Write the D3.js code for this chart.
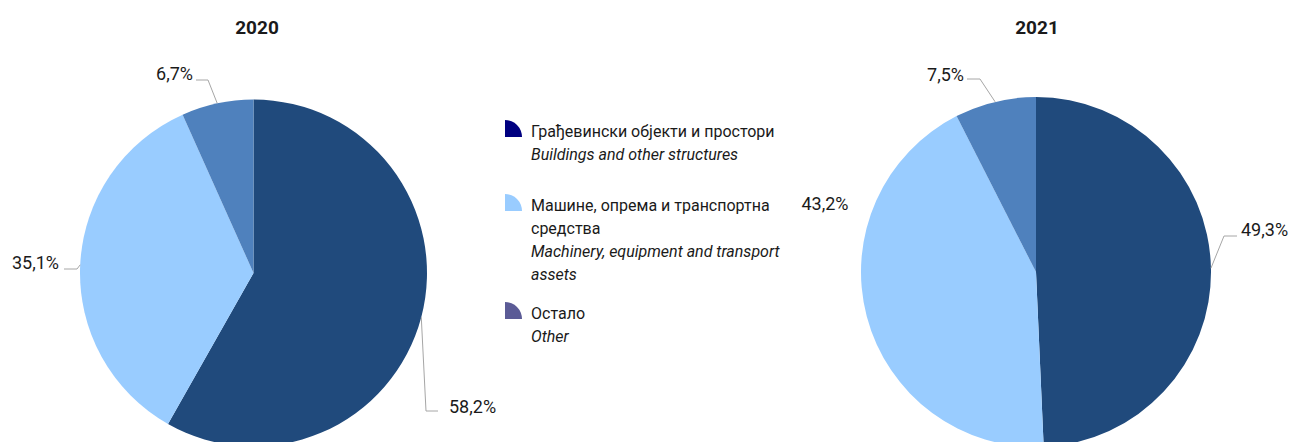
<!DOCTYPE html>
<html>
<head>
<meta charset="utf-8">
<script src="https://cdn.jsdelivr.net/npm/d3@7"></script>
<style>
  body { margin: 0; background: #fff; }
  svg text { font-family: Roboto, "Liberation Sans", sans-serif; fill: #1a1a1a; }
</style>
</head>
<body>
<script>
// data
const categories = ["buildings", "machinery", "other"];
const years = ["2020", "2021"];
const values2020 = [58.2, 35.1, 6.7];
const values2021 = [49.3, 43.2, 7.5];
const labelsSr = ["Грађевински објекти и простори", ["Машине, опрема и транспортна", "средства"], "Остало"];
const labelsEn = ["Buildings and other structures", ["Machinery, equipment and transport", "assets"], "Other"];

const width = 1293, height = 442;
const sliceColor = d3.scaleOrdinal().domain(categories).range(["#204a7c", "#99ccff", "#4f81bd"]);
const legendColor = d3.scaleOrdinal().domain(categories).range(["#000080", "#99ccff", "#5b5b96"]);

const svg = d3.select("body").append("svg")
    .attr("width", width)
    .attr("height", height);

// layout per pie: center, radius, label placement (label x/y, anchor, leader elbow/end)
const pies = [
    { year: years[0], values: values2020, cx: 253.5, cy: 273, r: 173.5, titleX: 257,
      labels: [
        { x: 449, y: 407, anchor: "start", elbow: [426, 411], end: [438, 411] },
        { x: 59, y: 263, anchor: "end", elbow: [77, 269], end: [64, 269] },
        { x: 193, y: 74, anchor: "end", elbow: [208, 80], end: [196, 80] }
      ] },
    { year: years[1], values: values2021, cx: 1036, cy: 272, r: 175, titleX: 1037,
      labels: [
        { x: 1241, y: 230, anchor: "start", elbow: [1224, 236], end: [1237, 236] },
        { x: 825, y: 204, anchor: "middle", elbow: null },
        { x: 964, y: 75, anchor: "end", elbow: [980, 79], end: [967, 79] }
      ] }
];

const pie = d3.pie().sort(null).value(d => d.value);
const fmt = v => d3.format(".1f")(v).replace(".", ",") + "%";

pies.forEach(p => {
    const data = categories.map((c, i) => ({ key: c, value: p.values[i] }));
    const arcs = pie(data);
    const arc = d3.arc().innerRadius(0).outerRadius(p.r);

    svg.append("text")
        .attr("x", p.titleX)
        .attr("y", 34)
        .attr("text-anchor", "middle")
        .style("font-size", "19px")
        .style("font-weight", "bold")
        .text(p.year);

    const g = svg.append("g").attr("transform", `translate(${p.cx},${p.cy})`);
    g.selectAll("path")
        .data(arcs)
        .enter().append("path")
        .attr("d", arc)
        .attr("fill", d => sliceColor(d.data.key));

    arcs.forEach((a, i) => {
        const L = p.labels[i];
        const mid = (a.startAngle + a.endAngle) / 2;
        const ex = p.cx + p.r * Math.sin(mid);
        const ey = p.cy - p.r * Math.cos(mid);
        if (L.elbow) {
            svg.append("polyline")
                .attr("points", [[ex, ey], L.elbow, L.end].map(pt => pt.join(",")).join(" "))
                .attr("fill", "none")
                .attr("stroke", "#a6a6a6")
                .attr("stroke-width", 1);
        }
        svg.append("text")
            .attr("x", L.x)
            .attr("y", L.y)
            .attr("dy", "0.35em")
            .attr("text-anchor", L.anchor)
            .style("font-size", "18px")
            .text(fmt(a.data.value));
    });
});

// legend
const legendX = 505, textX = 531;
const legendRows = [122, 196, 304];
const lineH = 23;
const quarter = d3.arc().innerRadius(0).outerRadius(17).startAngle(0).endAngle(Math.PI / 2);

categories.forEach((c, i) => {
    const y0 = legendRows[i];
    svg.append("path")
        .attr("transform", `translate(${legendX},${y0 + 15})`)
        .attr("d", quarter())
        .attr("fill", legendColor(c));

    const sr = [].concat(labelsSr[i]);
    const en = [].concat(labelsEn[i]);
    let y = y0 + 15;
    sr.forEach(t => {
        svg.append("text").attr("x", textX).attr("y", y).style("font-size", "16px").text(t);
        y += lineH;
    });
    en.forEach(t => {
        svg.append("text").attr("x", textX).attr("y", y).style("font-size", "16px").style("font-style", "italic").text(t);
        y += lineH;
    });
});
</script>
</body>
</html>
